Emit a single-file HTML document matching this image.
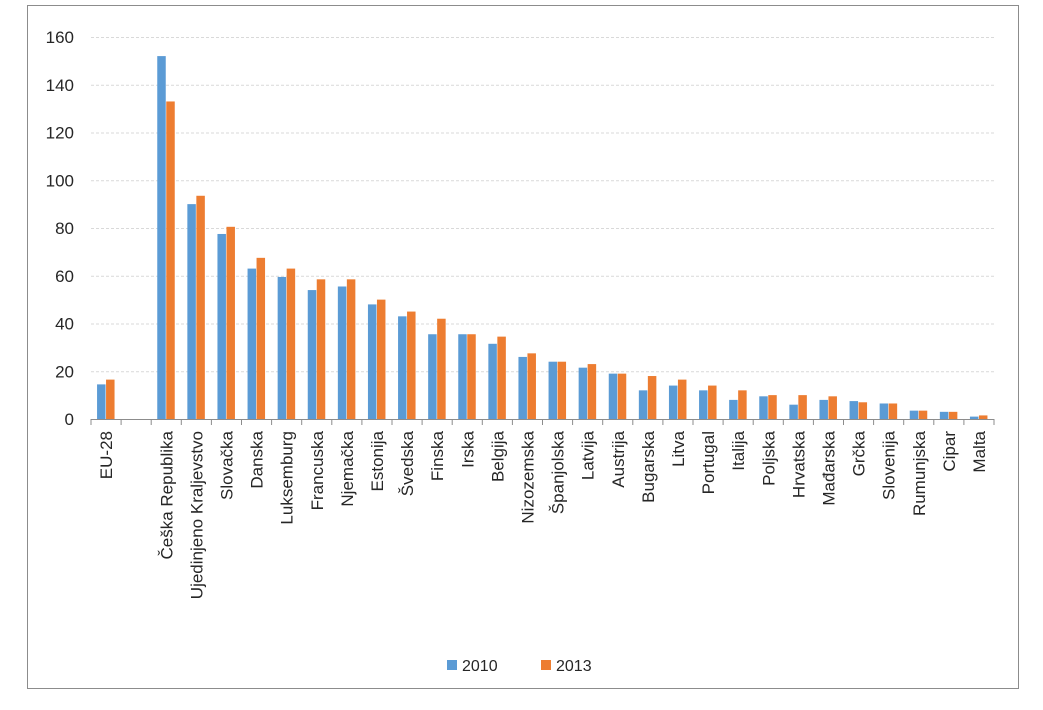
<!DOCTYPE html>
<html><head><meta charset="utf-8"><style>
body{margin:0;background:#fff;font-family:"Liberation Sans",sans-serif;}
</style></head><body>
<svg id="chart" width="1043" height="705" xmlns="http://www.w3.org/2000/svg" font-family="Liberation Sans, sans-serif">
<rect x="27.5" y="5.5" width="991" height="683" fill="#fff" stroke="#8c8c8c" stroke-width="1"/>
<g id="grid"></g><g id="bars"></g><g id="axes"></g>
<g>
<rect x="447" y="660" width="10" height="10" fill="#5B9BD5"/>
<text x="462" y="671" font-size="16" fill="#262626">2010</text>
<rect x="541" y="660" width="10" height="10" fill="#ED7D31"/>
<text x="556" y="671" font-size="16" fill="#262626">2013</text>
</g>
</svg>
<script>
const categories=["EU-28","","Češka Republika","Ujedinjeno Kraljevstvo","Slovačka","Danska","Luksemburg","Francuska","Njemačka","Estonija","Švedska","Finska","Irska","Belgija","Nizozemska","Španjolska","Latvija","Austrija","Bugarska","Litva","Portugal","Italija","Poljska","Hrvatska","Mađarska","Grčka","Slovenija","Rumunjska","Cipar","Malta"];
const values2010=[14.5,null,152,90,77.5,63,59.5,54,55.5,48,43,35.5,35.5,31.5,26,24,21.5,19,12,14,12,8,9.5,6,8,7.5,6.5,3.5,3,1];
const values2013=[16.5,null,133,93.5,80.5,67.5,63,58.5,58.5,50,45,42,35.5,34.5,27.5,24,23,19,18,16.5,14,12,10,10,9.5,7,6.5,3.5,3,1.5];
const yTicks=[0,20,40,60,80,100,120,140,160];
const NS="http://www.w3.org/2000/svg";
const x0=91,x1=994,y0=419,yTop=37,yMax=160;
const slot=(x1-x0)/categories.length;
const y=v=>y0-(v/yMax)*(y0-yTop);
function mk(t,a,p){const e=document.createElementNS(NS,t);for(const k in a)e.setAttribute(k,a[k]);p.appendChild(e);return e;}
const grid=document.getElementById('grid'),bars=document.getElementById('bars'),axes=document.getElementById('axes');
yTicks.forEach(v=>{
 if(v>0){const l=mk('line',{x1:x0,x2:x1,y1:y(v)+.5,y2:y(v)+.5,stroke:'#d9d9d9','stroke-dasharray':'3,2'},grid);
 
 }
 const t=mk('text',{x:74,y:y(v)+6,'text-anchor':'end','font-size':17,fill:'#262626'},axes);
 t.textContent=v;
 
 
});
categories.forEach((c,i)=>{
 const cx=x0+slot*(i+0.5);
 if(values2010[i]!=null){
  const b=mk('rect',{x:cx-9,y:y(values2010[i]),width:8.5,height:y0-y(values2010[i]),fill:'#5B9BD5'},bars);
  
  
 }
 if(values2013[i]!=null){
  const b=mk('rect',{x:cx,y:y(values2013[i]),width:8.5,height:y0-y(values2013[i]),fill:'#ED7D31'},bars);
  
  
 }
 const tk=mk('line',{x1:x0+slot*i,x2:x0+slot*i,y1:y0,y2:y0+6,stroke:'#8c8c8c'},axes);
 
 
 if(c){
  const t=mk('text',{transform:`translate(${cx+6},431) rotate(-90)`,'text-anchor':'end','font-size':17,fill:'#262626'},axes);
  t.textContent=c;
  
  
 }
});
const lt=mk('line',{x1:x1,x2:x1,y1:y0,y2:y0+6,stroke:'#8c8c8c'},axes);


const ax=mk('line',{x1:x0,x2:x1,y1:y0+.5,y2:y0+.5,stroke:'#8c8c8c'},axes);


</script>
</body></html>
